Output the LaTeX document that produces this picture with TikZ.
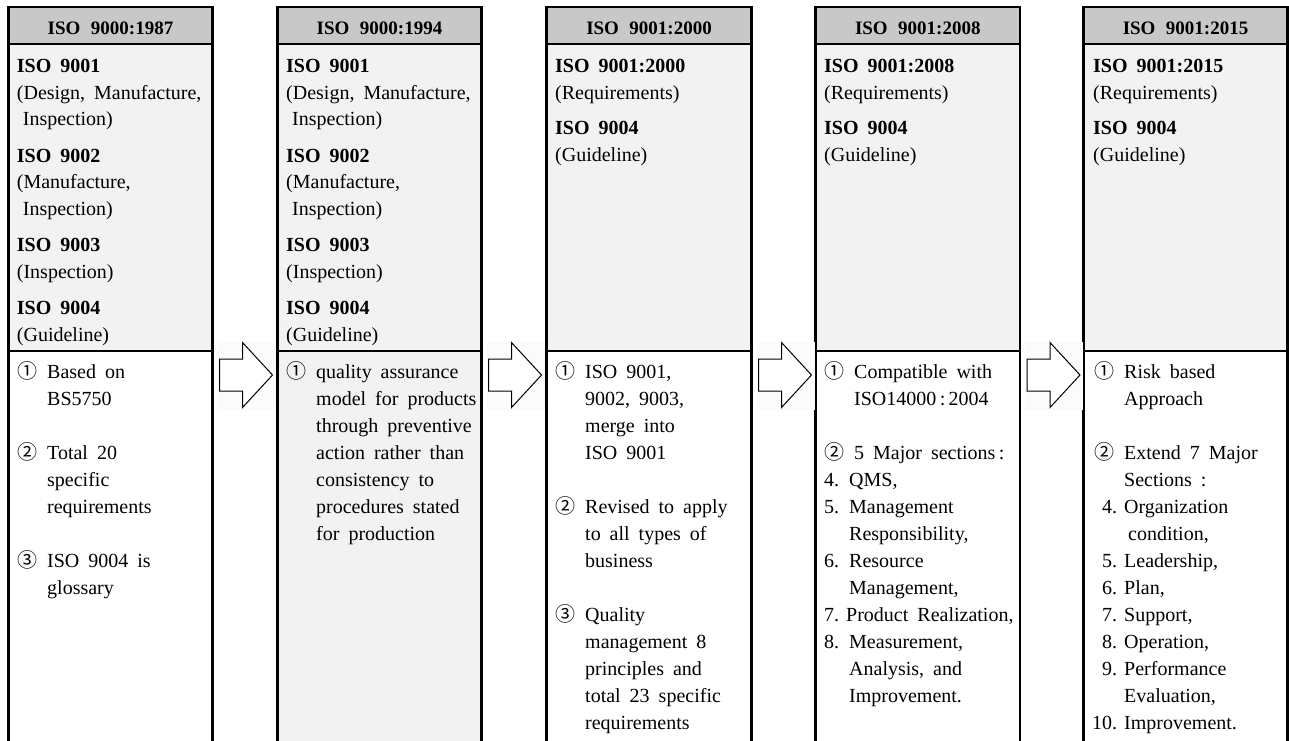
\documentclass[tikz,border=0pt]{standalone}
\usepackage{fontspec}
\setmainfont{Liberation Serif}
\newfontfamily\circfont{Noto Sans CJK JP}
\usetikzlibrary{calc}

\definecolor{headgray}{HTML}{C8C8C8}
\definecolor{panegray}{HTML}{F2F2F2}
\definecolor{bandgray}{HTML}{FBFBFB}

% wide word spacing used throughout
\newcommand\widespaces[1]{\spaceskip=#1 plus 0.1em minus 0.05em\relax
  \xspaceskip=\spaceskip}

% circled item number, hanging indent, and list numbers
\newcommand\cnum[1]{\makebox[30pt][l]{\circfont #1}}
\newcommand\ind{\hspace*{30pt}}
\newcommand\lnum[1]{\makebox[25pt][l]{#1}}
\newcommand\rnum[1]{\makebox[23pt][r]{#1}\hspace{7pt}}

\tikzset{
  colhead/.style={anchor=north west, inner sep=0pt, outer sep=0pt,
    minimum height=37pt, fill=headgray, text height=18pt, text depth=0pt,
    font=\bfseries\fontsize{19}{22}\selectfont,
    execute at begin node={\widespaces{0.55em}}},
  pane/.style={anchor=north west, inner sep=0pt, outer sep=0pt},
  frame/.style={line width=2.8pt, line join=miter},
  headrule/.style={line width=2.6pt},
  divider/.style={line width=1.3pt},
  uptext/.style={anchor=base west, inner sep=0pt, text width=200pt, align=left,
    font=\fontsize{20}{26.5}\selectfont,
    execute at begin node={\widespaces{0.45em}}},
  uptextb/.style={uptext, font=\fontsize{20}{27}\selectfont},
  lowtext/.style={anchor=base west, inner sep=0pt, text width=205pt, align=left,
    font=\fontsize{20}{27}\selectfont,
    execute at begin node={\widespaces{0.45em}}},
  blockarrow/.style={draw=black, line width=1pt, fill=white, line join=miter},
}

% one edition column: header, upper (documents) pane, lower (notes) pane
\newcommand\isocolumn[5]{%
  \node[colhead, minimum width=#5] (h#1) at (#2,7) {#3};
  \node[pane, minimum width=#5, minimum height=307pt, fill=panegray] (u#1) at (#2,44) {};
  \node[pane, minimum width=#5, minimum height=400pt, fill=#4] (l#1) at (#2,351) {};
  \draw[headrule] (h#1.south west) -- (h#1.south east);
  \draw[divider] (u#1.south west) -- (u#1.south east);
  \draw[frame] (l#1.south west) -- (h#1.north west) -- (h#1.north east) -- (l#1.south east);
}

% hollow block arrow starting at a named coordinate
\newcommand\blockarrow[1]{%
  \draw[blockarrow] ($(#1)+(0,-16)$) -- ++(23,0) -- ++(0,-16.5) -- ++(30,32.5)
    -- ++(-30,32.5) -- ++(0,-16.5) -- ++(-23,0) -- cycle;
}

\begin{document}
\begin{tikzpicture}[x=1pt,y=-1pt]
\useasboundingbox[fill=white] (0,0) rectangle (1289,740);

\isocolumn{1}{8.5}{ISO 9000:1987}{white}{204pt}
\isocolumn{2}{277.5}{ISO 9000:1994}{panegray}{204pt}
\isocolumn{3}{546.5}{ISO 9001:2000}{white}{205pt}
\isocolumn{4}{815.5}{ISO 9001:2008}{white}{204.5pt}
\isocolumn{5}{1083.5}{ISO 9001:2015}{white}{204pt}

% arrows between the columns
\foreach \i/\j in {1/2,2/3,3/4,4/5}{
  \coordinate (a\i) at ($(l\i.north east)+(7,24)$);
  \fill[bandgray] ($(a\i)+(-2,-33)$) rectangle ($(a\i)+(56,35)$);
  \blockarrow{a\i}
}

% documents of each edition
\node[uptext] (ut1) at (16.7,72.5) {\textbf{ISO 9001}\\
  (Design, Manufacture,\\ \hspace*{6pt}Inspection)\\[10pt]
  \textbf{ISO 9002}\\ (Manufacture,\\ \hspace*{6pt}Inspection)\\[10pt]
  \textbf{ISO 9003}\\ (Inspection)\\[10pt]
  \textbf{ISO 9004}\\ (Guideline)};
\node[uptext] (ut2) at (286,72.5) {\textbf{ISO 9001}\\
  (Design, Manufacture,\\ \hspace*{6pt}Inspection)\\[10pt]
  \textbf{ISO 9002}\\ (Manufacture,\\ \hspace*{6pt}Inspection)\\[10pt]
  \textbf{ISO 9003}\\ (Inspection)\\[10pt]
  \textbf{ISO 9004}\\ (Guideline)};
\node[uptextb] (ut3) at (555,72.5) {\textbf{ISO 9001:2000}\\ (Requirements)\\[8pt]
  \textbf{ISO 9004}\\ (Guideline)};
\node[uptextb] (ut4) at (824,72.5) {\textbf{ISO 9001:2008}\\ (Requirements)\\[8pt]
  \textbf{ISO 9004}\\ (Guideline)};
\node[uptextb] (ut5) at (1093,72.5) {\textbf{ISO 9001:2015}\\ (Requirements)\\[8pt]
  \textbf{ISO 9004}\\ (Guideline)};

% notes on each edition
\node[lowtext] (lt1) at (17,378) {\cnum{①}Based on\\ \ind BS5750\\[27pt]
  \cnum{②}Total 20\\ \ind specific\\ \ind requirements\\[27pt]
  \cnum{③}ISO 9004 is\\ \ind glossary};
\node[lowtext] (lt2) at (286,378) {\cnum{①}quality assurance\\
  \ind model for products\\ \ind through preventive\\ \ind action rather than\\
  \ind consistency to\\ \ind procedures stated\\ \ind for production};
\node[lowtext] (lt3) at (555,378) {\cnum{①}ISO 9001,\\ \ind 9002, 9003,\\
  \ind merge into\\ \ind ISO 9001\\[27pt]
  \cnum{②}Revised to apply\\ \ind to all types of\\ \ind business\\[27pt]
  \cnum{③}Quality\\ \ind management 8\\ \ind principles and\\
  \ind total 23 specific\\ \ind requirements};
\node[lowtext] (lt4) at (824,378) {\cnum{①}Compatible with\\
  \ind ISO14000\,:\,2004\\[27pt]
  \cnum{②}5 Major sections\,:\\
  \lnum{4.}QMS,\\
  \lnum{5.}Management\\ \hspace*{25pt}Responsibility,\\
  \lnum{6.}Resource\\ \hspace*{25pt}Management,\\
  \makebox[22pt][l]{7.}Product Realization,\\
  \lnum{8.}Measurement,\\ \hspace*{25pt}Analysis, and\\
  \hspace*{25pt}Improvement.};
\node[lowtext] (lt5) at (1094,378) {\cnum{①}Risk based\\ \ind Approach\\[27pt]
  \cnum{②}Extend 7 Major\\ \ind Sections :\\
  \rnum{4.}Organization\\ \hspace*{34pt}condition,\\
  \rnum{5.}Leadership,\\ \rnum{6.}Plan,\\ \rnum{7.}Support,\\
  \rnum{8.}Operation,\\ \rnum{9.}Performance\\ \ind Evaluation,\\
  \rnum{10.}Improvement.};
\end{tikzpicture}
\end{document}
